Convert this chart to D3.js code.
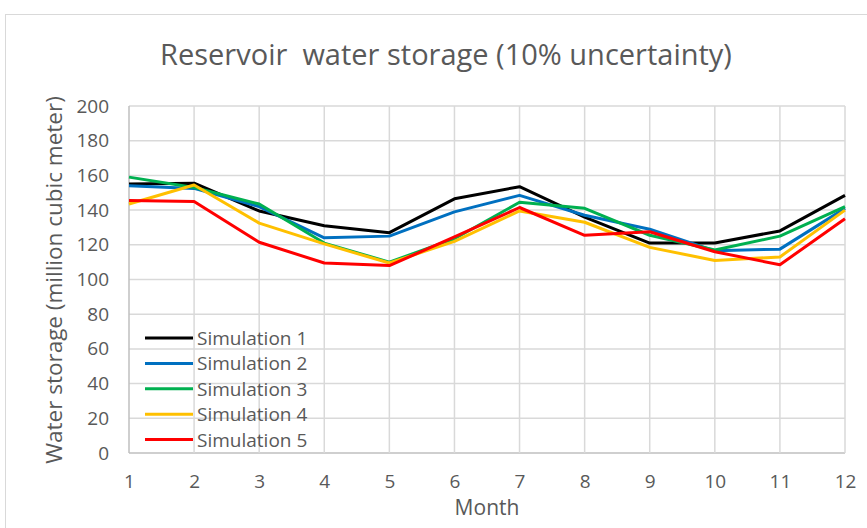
<!DOCTYPE html>
<html>
<head>
<meta charset="utf-8">
<script src="https://cdn.jsdelivr.net/npm/d3@7"></script>
<style>
  body { margin: 0; background: #fff; }
  text { font-family: "Open Sans", sans-serif; fill: #595959; }
</style>
</head>
<body>
<script>
var w = 867;
var h = 528;

// data
var months = [1, 2, 3, 4, 5, 6, 7, 8, 9, 10, 11, 12];
var seriesNames = ["Simulation 1", "Simulation 2", "Simulation 3", "Simulation 4", "Simulation 5"];
var sim1 = [155, 155.5, 139.5, 131, 127, 146.5, 153.5, 136, 121, 121, 128, 148.5];
var sim2 = [154, 152.5, 142, 124, 125, 139, 148.5, 137, 129, 116.5, 117.5, 141];
var sim3 = [159, 153, 143.5, 121, 110, 123.5, 144.5, 141, 125.5, 117, 125, 142];
var sim4 = [143.5, 154.5, 132.5, 120.5, 109.5, 122, 139.5, 133, 118.5, 111, 113, 140];
var sim5 = [145.5, 145, 121.5, 109.5, 108, 124.5, 141.5, 125.5, 127.5, 116, 108.5, 135];
var yTicks = [0, 20, 40, 60, 80, 100, 120, 140, 160, 180, 200];
var colors = ["#000000", "#0070C0", "#00B050", "#FFC000", "#FF0000"];
var allSims = [sim1, sim2, sim3, sim4, sim5];

var svg = d3.select("body")
  .append("svg")
  .attr("width", w)
  .attr("height", h);

// chart frame
svg.append("rect")
  .attr("x", 5.5).attr("y", 14.5)
  .attr("width", 880).attr("height", 540)
  .attr("fill", "none")
  .attr("stroke", "#d9d9d9");

var x = d3.scaleLinear().domain([1, 12]).range([129, 845]);
var y = d3.scaleLinear().domain([0, 200]).range([453, 106]);

// gridlines
svg.append("g")
  .selectAll("line")
  .data(yTicks)
  .enter()
  .append("line")
  .attr("x1", x(1)).attr("x2", x(12))
  .attr("y1", function (d) { return y(d); })
  .attr("y2", function (d) { return y(d); })
  .attr("stroke", function (d) { return d == 0 ? "#bfbfbf" : "#d9d9d9"; })
  .attr("stroke-width", 1.5);

svg.append("g")
  .selectAll("line")
  .data(months)
  .enter()
  .append("line")
  .attr("x1", function (d) { return x(d); })
  .attr("x2", function (d) { return x(d); })
  .attr("y1", y(0)).attr("y2", y(200))
  .attr("stroke", function (d) { return d == 1 ? "#bfbfbf" : "#d9d9d9"; })
  .attr("stroke-width", 1.5);

// axes (labels only)
var yAxis = svg.append("g")
  .attr("transform", "translate(" + x(1) + ",0)")
  .call(d3.axisLeft(y).tickValues(yTicks).tickSize(0).tickPadding(20));
yAxis.select(".domain").remove();
yAxis.selectAll("text").style("font-size", "19px").attr("fill", "#595959");

var xAxis = svg.append("g")
  .attr("transform", "translate(0," + y(0) + ")")
  .call(d3.axisBottom(x).tickValues(months).tickFormat(d3.format("d")).tickSize(0).tickPadding(22));
xAxis.select(".domain").remove();
xAxis.selectAll("text").style("font-size", "19px").attr("fill", "#595959");

// lines
var line = d3.line()
  .x(function (d, i) { return x(months[i]); })
  .y(function (d) { return y(d); });

svg.append("g")
  .selectAll("path")
  .data(allSims)
  .enter()
  .append("path")
  .attr("d", line)
  .attr("fill", "none")
  .attr("stroke", function (d, i) { return colors[i]; })
  .attr("stroke-width", 3)
  .attr("stroke-linejoin", "round");

// title + axis titles
svg.append("text")
  .attr("x", 446).attr("y", 65)
  .attr("text-anchor", "middle")
  .style("font-size", "29px")
  .style("white-space", "pre")
  .text("Reservoir  water storage (10% uncertainty)");

svg.append("text")
  .attr("x", 487).attr("y", 515)
  .attr("text-anchor", "middle")
  .style("font-size", "21px")
  .text("Month");

svg.append("text")
  .attr("transform", "translate(62,280) rotate(-90)")
  .attr("text-anchor", "middle")
  .style("font-size", "22.5px")
  .text("Water storage (million cubic meter)");

// legend
var legend = svg.append("g")
  .selectAll("g")
  .data(seriesNames)
  .enter()
  .append("g")
  .attr("transform", function (d, i) { return "translate(0," + (338 + i * 25.4) + ")"; });

legend.append("line")
  .attr("x1", 145).attr("x2", 193)
  .attr("stroke", function (d, i) { return colors[i]; })
  .attr("stroke-width", 3);

legend.append("text")
  .attr("x", 197).attr("y", 7)
  .style("font-size", "19px")
  .text(function (d) { return d; });
</script>
</body>
</html>
